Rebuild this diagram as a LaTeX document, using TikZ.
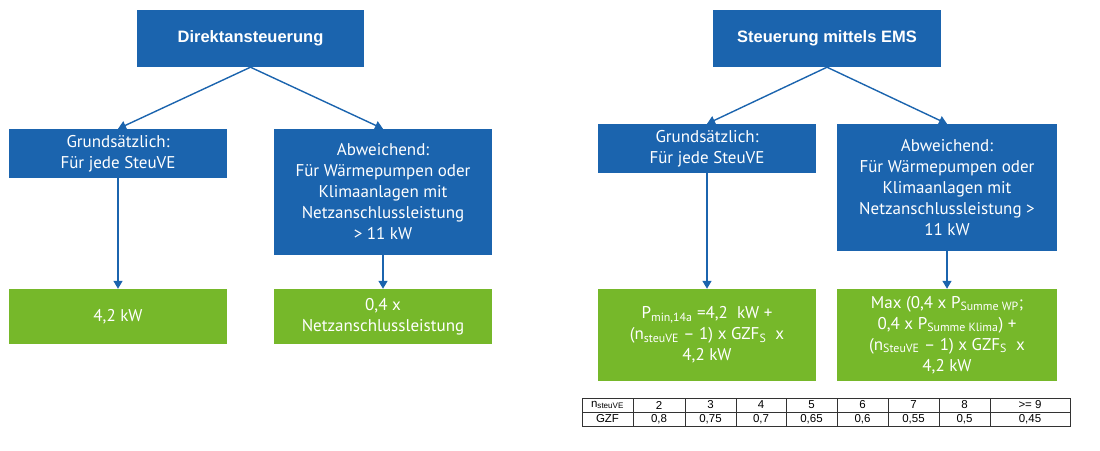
\documentclass[tikz,border=0pt]{standalone}
\usepackage{fontspec}
\setmainfont{PT Sans}
\newfontfamily\headfont{Liberation Sans}
\usepackage{tikz}
\usetikzlibrary{arrows.meta}

\definecolor{boxblue}{RGB}{27,100,174}
\definecolor{boxgreen}{RGB}{118,184,42}

\tikzset{
	headbox/.style={fill=boxblue, text=white, minimum width=227pt, minimum height=57pt,
		font=\headfont\bfseries\fontsize{16.5}{19}\selectfont},
	bluebox/.style={fill=boxblue, text=white, align=center, minimum width=218pt,
		font=\fontsize{17}{21}\selectfont},
	greenbox/.style={fill=boxgreen, text=white, align=center, minimum width=218pt,
		font=\fontsize{17}{21}\selectfont},
	link/.style={draw=boxblue, line width=1.4pt, -{Triangle[length=8pt,width=9pt]}},
	cell/.style={font=\headfont\fontsize{11.5}{12}\selectfont, inner sep=0pt}
}

\begin{document}
\begin{tikzpicture}[x=1pt, y=-1pt]
	\useasboundingbox (0,0) rectangle (1100,450);

	% Direktansteuerung
	\node[headbox] (dir) at (250.5,38.5) {Direktansteuerung};
	\node[bluebox, minimum height=49pt] (grundL) at (118,153.5) {Grundsätzlich:\\Für jede SteuVE};
	\node[bluebox, minimum height=126pt] (abwL) at (383,192) {Abweichend:\\Für Wärmepumpen oder\\Klimaanlagen mit\\Netzanschlussleistung\\> 11 kW};
	\node[greenbox, minimum height=55pt] (kwL) at (118,316.5) {4,2 kW};
	\node[greenbox, minimum height=55pt] (netzL) at (383,316.5) {0,4 x\\Netzanschlussleistung};

	\draw[link] (dir.south) -- (grundL.north);
	\draw[link] (dir.south) -- (abwL.north);
	\draw[link] (grundL.south) -- (kwL.north);
	\draw[link] (abwL.south) -- (netzL.north);

	% Steuerung mittels EMS
	\node[headbox, minimum width=228pt] (ems) at (827,38.5) {Steuerung mittels EMS};
	\node[bluebox, minimum height=49pt] (grundR) at (707,148.5) {Grundsätzlich:\\Für jede SteuVE};
	\node[bluebox, minimum width=220pt, minimum height=127pt] (abwR) at (947,187.5) {Abweichend:\\Für Wärmepumpen oder\\Klimaanlagen mit\\Netzanschlussleistung >\\11 kW};
	\node[greenbox, minimum height=92pt] (pminR) at (707,335) {P\textsubscript{min,14a} =4,2 \ kW +\\(n\textsubscript{steuVE} – 1) x GZF\textsubscript{S} \ x\\4,2 kW};
	\node[greenbox, minimum width=220pt, minimum height=92pt] (maxR) at (947,335) {Max (0,4 x P\textsubscript{Summe WP};\\0,4 x P\textsubscript{Summe Klima}) +\\(n\textsubscript{SteuVE} – 1) x GZF\textsubscript{S} \ x\\4,2 kW};

	\draw[link] (ems.south) -- (grundR.north);
	\draw[link] (ems.south) -- (abwR.north);
	\draw[link] (grundR.south) -- (pminR.north);
	\draw[link] (abwR.south) -- (maxR.north);

	% GZF table
	\foreach \xa/\xb/\top/\bot [count=\i] in {582/633/{n\textsubscript{steuVE}}/GZF, 633/685/2/{0,8},
		685/736/3/{0,75}, 736/786/4/{0,7}, 786/837/5/{0,65}, 837/888/6/{0,6},
		888/939/7/{0,55}, 939/990/8/{0,5}, 990/1070/{>= 9}/{0,45}} {
		\draw[line width=1pt, black!80] (\xa,398) rectangle (\xb,412);
		\draw[line width=1pt, black!80] (\xa,412) rectangle (\xb,426);
		\node[cell] (n\i) at ({(\xa+\xb)/2},405) {\top};
		\node[cell] (g\i) at ({(\xa+\xb)/2},419) {\bot};
	}
\end{tikzpicture}
\end{document}
